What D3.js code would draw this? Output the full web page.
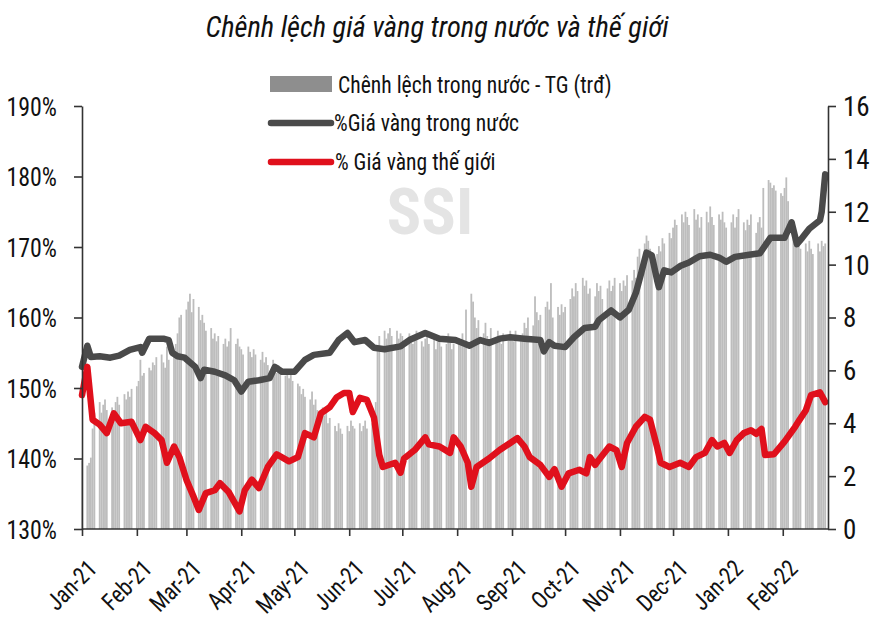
<!DOCTYPE html>
<html><head><meta charset="utf-8">
<script src="https://cdn.jsdelivr.net/npm/d3@7/dist/d3.min.js"></script>
<style>
body{margin:0;background:#fff}
text{font-family:"Liberation Sans Narrow","Arial Narrow","Roboto Condensed","DejaVu Sans Condensed",sans-serif;fill:#111}
</style>
</head><body>
<svg id="c" width="883" height="619"></svg>
<script>
const chartTitle = "Chênh lệch giá vàng trong nước và thế giới";
const legendLabels = ["Chênh lệch trong nước - TG (trđ)", "%Giá vàng trong nước", "% Giá vàng thế giới"];
const leftTicks = [130, 140, 150, 160, 170, 180, 190];
const rightTicks = [0, 2, 4, 6, 8, 10, 12, 14, 16];
const monthTicks = ["2021-01-01","2021-02-01","2021-03-01","2021-04-01","2021-05-01","2021-06-01","2021-07-01",
  "2021-08-01","2021-09-01","2021-10-01","2021-11-01","2021-12-01","2022-01-01","2022-02-01"];

// Gap domestic - world (million VND), one value per business day, grouped by month
const barMonths = ["2021-01","2021-02","2021-03","2021-04","2021-05","2021-06","2021-07","2021-08","2021-09","2021-10","2021-11","2021-12","2022-01","2022-02"];
const barValues = [
  [2.6,2.4,2.5,2.7,3.8,4.4,4.8,4.4,4.7,4.9,4.5,4.6,4.3,4.8,5.0,4.7,5.1,4.9,5.2,5.0,5.3],
  [5.4,5.6,6.4,5.8,5.9,6.1,6.0,6.3,6.2,6.5,6.6,6.3,6.1,6.9,6.4,6.7,7.0,7.4,8.0,8.1],
  [8.3,8.6,8.9,8.2,8.7,8.4,7.9,8.1,7.8,7.5,7.6,7.2,7.4,7.1,7.3,7.0,7.2,6.9,7.1,7.6,7.0,7.2,6.9],
  [6.8,6.6,6.9,6.7,6.5,6.8,6.6,6.4,6.7,6.3,6.5,6.2,6.4,6.1,5.9,6.2,6.0,5.8,5.9,5.7,5.9,5.6],
  [5.5,5.4,5.1,5.3,5.0,4.9,5.2,4.7,4.9,4.5,4.6,4.3,4.4,4.0,4.2,3.9,3.7,4.0,3.8,3.6,3.9],
  [3.7,4.1,3.9,3.8,4.0,3.7,3.9,4.1,3.8,4.0,4.3,4.8,6.9,7.3,7.5,7.2,7.4,7.6,7.3,7.5,7.2,7.4],
  [7.3,7.1,7.4,7.2,7.0,7.3,7.5,7.1,6.9,7.2,7.4,7.0,7.2,6.8,7.1,7.3,6.9,7.0,7.4,7.1,6.8,7.0],
  [7.2,7.0,7.4,7.1,8.3,8.9,8.6,8.0,7.6,7.9,7.4,7.8,7.3,7.1,7.6,7.2,7.5,7.3,7.0,7.4,7.2,7.5],
  [7.3,7.1,7.5,7.2,7.4,7.8,7.6,8.0,7.7,8.8,8.2,7.9,8.1,8.4,8.6,8.3,9.3,8.0,8.4,8.1,8.5,8.2],
  [8.4,8.7,9.1,8.8,9.3,9.0,9.5,9.2,9.4,8.9,9.1,8.8,9.3,9.0,9.2,8.7,9.1,9.4,9.0,9.2,9.5],
  [9.3,9.0,9.4,9.2,9.6,9.4,9.8,9.5,10.3,10.6,10.8,11.1,10.9,10.6,10.2,10.4,10.7,10.5,11.0,10.8,11.2,11.0],
  [11.4,11.7,11.5,11.9,11.6,12.0,11.8,11.5,12.1,11.7,11.9,11.4,11.8,12.0,11.6,12.2,11.8,11.5,11.9,11.7,12.0,11.6,11.4],
  [11.6,11.9,11.4,11.8,12.1,11.6,11.3,11.7,11.5,11.9,11.2,11.6,11.8,11.4,12.9,13.2,13.1,12.9,13.0,12.8,12.7],
  [12.6,12.9,13.3,12.4,11.2,10.9,10.7,11.0,10.6,10.8,10.5,10.9,10.6,10.4,10.8,10.5,10.9,10.7,10.8]
];

// % domestic gold price (left axis)
const domesticPct = [
  ["2021-01-01",153.0],["2021-01-04",156.0],["2021-01-06",154.4],["2021-01-11",154.5],["2021-01-17",154.3],
  ["2021-01-22",154.6],["2021-01-28",155.4],["2021-02-03",155.8],["2021-02-04",155.0],["2021-02-08",157.0],
  ["2021-02-16",157.0],["2021-02-19",156.8],["2021-02-21",155.0],["2021-02-24",154.5],["2021-02-28",154.3],
  ["2021-03-06",153.0],["2021-03-09",151.4],["2021-03-11",152.6],["2021-03-17",152.3],["2021-03-23",151.8],
  ["2021-03-28",151.1],["2021-04-01",149.5],["2021-04-05",150.9],["2021-04-11",151.1],["2021-04-17",151.4],
  ["2021-04-20",153.0],["2021-04-24",152.3],["2021-05-01",152.3],["2021-05-07",154.0],["2021-05-12",154.7],
  ["2021-05-21",155.0],["2021-05-26",156.8],["2021-05-31",157.8],["2021-06-04",156.5],["2021-06-10",156.8],
  ["2021-06-15",155.7],["2021-06-21",155.5],["2021-06-30",155.9],["2021-07-05",156.8],["2021-07-14",157.8],
  ["2021-07-22",157.0],["2021-07-31",156.8],["2021-08-08",156.0],["2021-08-14",156.8],["2021-08-19",156.4],
  ["2021-08-25",157.0],["2021-08-31",157.2],["2021-09-08",157.0],["2021-09-17",156.8],["2021-09-19",155.2],
  ["2021-09-22",156.5],["2021-09-25",156.0],["2021-10-01",155.8],["2021-10-06",157.2],["2021-10-12",158.5],
  ["2021-10-18",158.7],["2021-10-20",159.6],["2021-10-27",161.0],["2021-11-01",160.0],["2021-11-06",161.1],
  ["2021-11-10",163.5],["2021-11-13",166.3],["2021-11-16",169.2],["2021-11-19",168.8],["2021-11-22",165.3],
  ["2021-11-23",164.3],["2021-11-26",166.7],["2021-11-30",166.4],["2021-12-05",167.3],["2021-12-10",167.8],
  ["2021-12-16",168.7],["2021-12-22",168.9],["2021-12-27",168.5],["2021-12-31",167.9],["2022-01-05",168.6],
  ["2022-01-13",168.9],["2022-01-19",169.1],["2022-01-25",171.3],["2022-02-02",171.3],["2022-02-06",173.5],
  ["2022-02-09",170.4],["2022-02-12",171.3],["2022-02-16",172.6],["2022-02-22",173.8],["2022-02-23",175.0],
  ["2022-02-25",180.3]
];

// % world gold price (left axis)
const worldPct = [
  ["2021-01-01",149.0],["2021-01-04",153.0],["2021-01-07",145.5],["2021-01-11",144.8],["2021-01-15",143.6],
  ["2021-01-19",146.4],["2021-01-23",145.0],["2021-01-29",145.2],["2021-02-03",142.6],["2021-02-06",144.5],
  ["2021-02-11",143.6],["2021-02-15",142.6],["2021-02-18",139.4],["2021-02-22",141.7],["2021-02-25",140.2],
  ["2021-03-01",137.0],["2021-03-05",134.6],["2021-03-08",132.7],["2021-03-12",135.1],["2021-03-17",135.5],
  ["2021-03-20",136.5],["2021-03-25",135.2],["2021-03-31",132.5],["2021-04-03",135.5],["2021-04-07",137.0],
  ["2021-04-11",135.8],["2021-04-16",138.8],["2021-04-21",140.6],["2021-04-28",139.6],["2021-05-03",140.2],
  ["2021-05-07",143.6],["2021-05-12",143.0],["2021-05-16",146.4],["2021-05-21",147.3],["2021-05-25",148.7],
  ["2021-05-29",149.3],["2021-06-01",149.3],["2021-06-03",146.6],["2021-06-07",148.6],["2021-06-11",148.3],
  ["2021-06-15",145.8],["2021-06-18",140.5],["2021-06-20",138.8],["2021-06-27",139.4],["2021-06-30",138.0],
  ["2021-07-02",140.0],["2021-07-08",141.2],["2021-07-14",143.0],["2021-07-16",142.0],["2021-07-22",141.7],
  ["2021-07-28",140.8],["2021-07-30",143.0],["2021-08-03",141.7],["2021-08-07",139.4],["2021-08-09",136.0],
  ["2021-08-12",138.8],["2021-08-19",140.0],["2021-08-25",141.2],["2021-08-31",142.2],["2021-09-04",142.9],
  ["2021-09-08",141.7],["2021-09-11",140.2],["2021-09-17",139.1],["2021-09-22",137.4],["2021-09-25",138.5],
  ["2021-09-29",136.0],["2021-10-03",137.9],["2021-10-09",138.4],["2021-10-13",137.9],["2021-10-15",140.2],
  ["2021-10-18",139.1],["2021-10-20",139.8],["2021-10-26",141.7],["2021-10-30",141.2],["2021-11-02",138.8],
  ["2021-11-05",142.2],["2021-11-10",144.5],["2021-11-15",145.9],["2021-11-18",145.5],["2021-11-22",141.6],
  ["2021-11-24",139.4],["2021-11-29",138.8],["2021-12-05",139.4],["2021-12-10",138.8],["2021-12-14",140.2],
  ["2021-12-19",140.8],["2021-12-23",142.6],["2021-12-26",141.7],["2021-12-30",142.2],["2022-01-02",140.8],
  ["2022-01-06",142.6],["2022-01-10",143.6],["2022-01-14",144.0],["2022-01-17",143.5],["2022-01-20",144.2],
  ["2022-01-22",140.5],["2022-01-27",140.6],["2022-02-02",142.4],["2022-02-08",144.5],["2022-02-10",145.3],
  ["2022-02-14",146.8],["2022-02-17",149.0],["2022-02-22",149.4],["2022-02-25",148.0]
];

const parse = d3.utcParse("%Y-%m-%d");
const svg = d3.select("#c");
const L = 82, R = 828, T = 106, B = 529;

const x = d3.scaleUtc().domain([parse("2021-01-01"), parse("2022-02-26")]).range([L, R - 1]);
const yL = d3.scaleLinear().domain([130, 190]).range([B, T]);
const yR = d3.scaleLinear().domain([0, 16]).range([B, T]);

// watermark
svg.append("text").attr("x", 430).attr("y", 234).attr("text-anchor", "middle")
  .style("font-size", "64px").style("font-weight", "bold").style("fill", "#e4e4e4").text("SSI");

// bars: business days per month
const endDate = parse("2022-02-26");
const bars = [];
barMonths.forEach((m, i) => {
  const start = parse(m + "-01");
  const stop = d3.min([d3.utcMonth.offset(start, 1), endDate]);
  const days = d3.utcDay.range(start, stop).filter(d => d.getUTCDay() !== 0 && d.getUTCDay() !== 6);
  barValues[i].forEach((v, j) => { if (days[j]) bars.push({date: days[j], value: v}); });
});
svg.append("g").selectAll("rect").data(bars).join("rect")
  .attr("x", d => x(d.date) - 0.9).attr("width", 1.8)
  .attr("y", d => yR(d.value)).attr("height", d => B - yR(d.value))
  .attr("fill", "#bdbdbd");

// lines
const line = d3.line().x(d => x(parse(d[0]))).y(d => yL(d[1]));
svg.append("path").datum(domesticPct).attr("d", line).attr("fill", "none")
  .attr("stroke", "#4a4a4a").attr("stroke-width", 6.5).attr("stroke-linejoin", "round").attr("stroke-linecap", "round");
svg.append("path").datum(worldPct).attr("d", line).attr("fill", "none")
  .attr("stroke", "#e0101c").attr("stroke-width", 6.5).attr("stroke-linejoin", "round").attr("stroke-linecap", "round");

// axes
const axL = svg.append("g").attr("transform", `translate(${L},0)`)
  .call(d3.axisLeft(yL).tickValues(leftTicks).tickFormat(d => d + "%").tickSize(8).tickSizeOuter(0));
const axR = svg.append("g").attr("transform", `translate(${R},0)`)
  .call(d3.axisRight(yR).tickValues(rightTicks).tickSize(8).tickSizeOuter(0));
const axB = svg.append("g").attr("transform", `translate(0,${B})`)
  .call(d3.axisBottom(x).tickValues(monthTicks.map(parse)).tickFormat(d3.utcFormat("%b-%y")).tickSize(7).tickSizeOuter(0));
axB.select(".domain").attr("d", `M${L},0H${R}`);
[axL, axR, axB].forEach(a => {
  a.selectAll("path,line").attr("stroke", "#333").attr("stroke-width", 1.6);
  a.selectAll("text").attr("fill", "#111").style("font-family", null);
});
axL.selectAll("text").style("font-size", "26px").attr("x", null).attr("dy", "0.35em")
  .attr("transform", "translate(-25,0) scale(0.92,1)");
axR.selectAll("text").style("font-size", "27px").attr("x", null).attr("dy", "0.35em")
  .attr("transform", "translate(15,0)");
axB.selectAll("text").style("font-size", "24px").attr("text-anchor", "end")
  .attr("x", null).attr("y", null).attr("dy", null)
  .attr("transform", "translate(16,41) rotate(-45) scale(0.92,1)");

// title
svg.append("text").attr("transform", "translate(437,37) scale(0.95,1)").attr("text-anchor", "middle")
  .style("font-size", "30px").style("font-style", "italic").text(chartTitle);

// legend
const lg = svg.append("g");
lg.append("rect").attr("x", 270).attr("y", 76).attr("width", 62).attr("height", 16).attr("fill", "#8e8e8e");
lg.append("text").attr("transform", "translate(338,93) scale(0.9,1)").style("font-size", "24px").text(legendLabels[0]);
lg.append("line").attr("x1", 271).attr("x2", 331).attr("y1", 123).attr("y2", 123)
  .attr("stroke", "#4a4a4a").attr("stroke-width", 6.5).attr("stroke-linecap", "round");
lg.append("text").attr("transform", "translate(334,131) scale(0.9,1)").style("font-size", "24px").text(legendLabels[1]);
lg.append("line").attr("x1", 271).attr("x2", 331).attr("y1", 162).attr("y2", 162)
  .attr("stroke", "#e0101c").attr("stroke-width", 6.5).attr("stroke-linecap", "round");
lg.append("text").attr("transform", "translate(335,170) scale(0.9,1)").style("font-size", "24px").text(legendLabels[2]);
</script>
</body></html>
